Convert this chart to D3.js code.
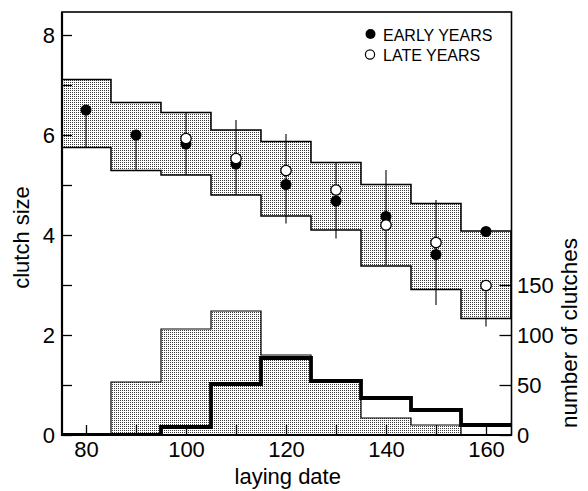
<!DOCTYPE html>
<html><head><meta charset="utf-8">
<script src="https://cdn.jsdelivr.net/npm/d3@7"></script>
<style>
html,body{margin:0;padding:0;background:#fff;}
text{font-family:"Liberation Sans",Arial,Helvetica,sans-serif;fill:#000;}
</style></head>
<body><svg id="chart" width="588" height="491"></svg>
<script>
// ---- data ----
const layingDates = [80, 90, 100, 110, 120, 130, 140, 150, 160];
const bandLow  = [5.75, 5.29, 5.20, 4.80, 4.38, 4.10, 3.38, 2.91, 2.33];
const bandHigh = [7.11, 6.65, 6.45, 6.10, 5.87, 5.45, 5.01, 4.63, 4.08];
const earlyMean = [6.50, 6.00, 5.82, 5.42, 5.01, 4.68, 4.37, 3.61, 4.07];
const lateMean  = [null, null, 5.93, 5.53, 5.29, 4.90, 4.20, 3.85, 2.99];
const errLow  = [5.75, 5.30, 5.20, 4.80, 4.23, 3.93, 3.40, 2.60, 2.17];
const errHigh = [6.50, 6.00, 6.45, 6.30, 6.02, 5.45, 5.30, 4.70, 2.99];
const earlyCounts = [0, 53, 106, 124, 80, 54, 17, 10, 0];
const lateCounts  = [0, 0, 8, 51, 77, 54, 37, 25, 10];
const xTicks = [80, 90, 100, 110, 120, 130, 140, 150, 160];
const xTickLabels = [80, 100, 120, 140, 160];
const yTicks = [0, 1, 2, 3, 4, 5, 6, 7, 8];
const yTickLabels = [0, 2, 4, 6, 8];
const countTicks = [0, 50, 100, 150];
const legendLabels = ["EARLY YEARS", "LATE YEARS"];

// ---- layout ----
const L = 62, R = 511.5, T = 12, B = 435;
const svg = d3.select("#chart");
const x = d3.scaleLinear().domain([75.2, 165.1]).range([L, R]);
const y = d3.scaleLinear().domain([0, 8.46]).range([B, T]);
const yc = d3.scaleLinear().domain([0, 423]).range([B, T]);
const halfBin = 5;
const bx0 = d => Math.max(x.domain()[0], d - halfBin);
const bx1 = d => Math.min(x.domain()[1], d + halfBin);

const defs = svg.append("defs");
const pat = defs.append("pattern").attr("id", "stip").attr("patternUnits", "userSpaceOnUse")
  .attr("width", 2).attr("height", 2);
pat.append("rect").attr("width", 2).attr("height", 2).attr("fill", "#fff");
pat.append("rect").attr("width", 1).attr("height", 1).attr("fill", "#3a3a3a");
defs.append("clipPath").attr("id", "clip").append("rect")
  .attr("x", L).attr("y", T).attr("width", R - L).attr("height", B - T);

const g = svg.append("g").attr("clip-path", "url(#clip)");

// upper band (step polygon)
const topPts = [], botPts = [];
layingDates.forEach((d, i) => {
  topPts.push([x(bx0(d)), y(bandHigh[i])], [x(bx1(d)), y(bandHigh[i])]);
  botPts.push([x(bx0(d)), y(bandLow[i])], [x(bx1(d)), y(bandLow[i])]);
});
g.append("path")
  .attr("d", d3.line()(topPts.concat(botPts.reverse())) + "Z")
  .attr("fill", "url(#stip)").attr("stroke", "#000").attr("stroke-width", 1.5);

// error bars
g.selectAll(".err").data(layingDates).join("line")
  .attr("x1", d => x(d)).attr("x2", d => x(d))
  .attr("y1", (d, i) => y(errLow[i])).attr("y2", (d, i) => y(errHigh[i]))
  .attr("stroke", "#000").attr("stroke-width", 1.1);

// points
g.selectAll(".early").data(layingDates).join("circle")
  .attr("cx", d => x(d)).attr("cy", (d, i) => y(earlyMean[i])).attr("r", 5.5)
  .attr("fill", "#000");
g.selectAll(".late").data(layingDates.filter((d, i) => lateMean[i] != null)).join("circle")
  .attr("cx", d => x(d)).attr("cy", d => y(lateMean[layingDates.indexOf(d)])).attr("r", 5.2)
  .attr("fill", "#fff").attr("stroke", "#000").attr("stroke-width", 1.3);

// lower histograms
const stepPts = counts => {
  const p = [];
  layingDates.forEach((d, i) => { p.push([x(bx0(d)), yc(counts[i])], [x(bx1(d)), yc(counts[i])]); });
  return p;
};
const ePts = stepPts(earlyCounts);
g.append("path")
  .attr("d", d3.line()([[x(bx0(layingDates[0])), B]].concat(ePts, [[x(bx1(layingDates[layingDates.length-1])), B]])) + "Z")
  .attr("fill", "url(#stip)").attr("stroke", "#000").attr("stroke-width", 1.2);
g.append("path")
  .attr("d", d3.line()(stepPts(lateCounts)))
  .attr("fill", "none").attr("stroke", "#000").attr("stroke-width", 3.8)
  .attr("stroke-linejoin", "miter").attr("stroke-linecap", "butt");

// axes
const fs = "22px";
const ax = svg.append("g").attr("transform", `translate(0,${B})`)
  .call(d3.axisBottom(x).tickValues(xTicks).tickSize(-10).tickPadding(6)
    .tickFormat(d => xTickLabels.includes(d) ? d : ""));
const ay = svg.append("g").attr("transform", `translate(${L},0)`)
  .call(d3.axisLeft(y).tickValues(yTicks).tickSize(-10).tickPadding(7)
    .tickFormat(d => yTickLabels.includes(d) ? d : ""));
const ar = svg.append("g").attr("transform", `translate(${R},0)`)
  .call(d3.axisRight(yc).tickValues(countTicks).tickSize(-12).tickPadding(5.5));
[ax, ay, ar].forEach(a => {
  a.select(".domain").remove();
  a.selectAll("line").attr("stroke", "#000").attr("stroke-width", 1.3);
  a.selectAll("text").style("font-size", fs).attr("fill", "#000")
    .style("font-family", "'Liberation Sans', Arial, sans-serif");
});

// frame
svg.append("rect").attr("x", L).attr("y", T).attr("width", R - L).attr("height", B - T)
  .attr("fill", "none").attr("stroke", "#000").attr("stroke-width", 1.6);
svg.append("line").attr("x1", L).attr("x2", L).attr("y1", T).attr("y2", B + 1)
  .attr("stroke", "#000").attr("stroke-width", 2.2);
svg.append("line").attr("x1", L).attr("x2", R).attr("y1", B).attr("y2", B)
  .attr("stroke", "#000").attr("stroke-width", 2.2);

// axis titles
svg.append("text").attr("x", (L + R) / 2 + 1).attr("y", 484).attr("text-anchor", "middle")
  .style("font-size", fs).text("laying date");
svg.append("text").attr("transform", `translate(29,${(T + B) / 2 + 14}) rotate(-90)`)
  .attr("text-anchor", "middle").style("font-size", fs).text("clutch size");
svg.append("text").attr("transform", `translate(577,${333}) rotate(-90)`)
  .attr("text-anchor", "middle").style("font-size", "22.5px").text("number of clutches");

// legend
const leg = svg.append("g");
leg.append("circle").attr("cx", 370.5).attr("cy", 34).attr("r", 5).attr("fill", "#000");
leg.append("circle").attr("cx", 370).attr("cy", 54.5).attr("r", 4.6).attr("fill", "#fff")
  .attr("stroke", "#000").attr("stroke-width", 1.2);
leg.selectAll(".lt").data(legendLabels).join("text")
  .attr("x", 383).attr("y", (d, i) => 40.5 + i * 20.5).style("font-size", "16px").text(d => d);
</script></body></html>
